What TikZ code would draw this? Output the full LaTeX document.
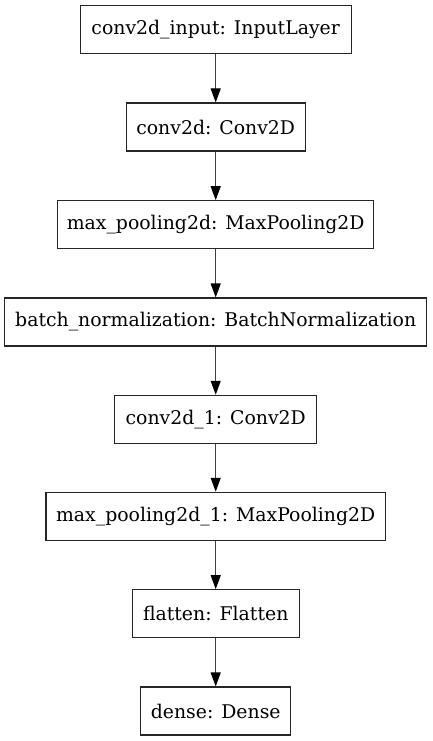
\documentclass[tikz,border=0pt]{standalone}
\usepackage{fontspec}
\setmainfont{DejaVu Serif}
\usetikzlibrary{arrows.meta}
\begin{document}
\begin{tikzpicture}[x=1pt,y=-1pt,
  layer/.style={draw=black!85,line width=1.1pt,minimum height=48pt,inner sep=0pt,
    font=\fontsize{18.85}{22}\selectfont,text=black},
  conn/.style={draw=black!75,line width=1.1pt,-{Triangle[length=14pt,width=10pt,fill=black,color=black]}}]
\useasboundingbox (0,0) rectangle (432,741);
\node[layer,minimum width=271pt] (in) at (215.7,29.7) {conv2d\_input: InputLayer};
\node[layer,minimum width=179pt] (c1) at (215.7,127) {conv2d: Conv2D};
\node[layer,minimum width=316pt] (m1) at (215.7,224.7) {max\_pooling2d: MaxPooling2D};
\node[layer,minimum width=422pt] (bn) at (215.7,322) {batch\_normalization: BatchNormalization};
\node[layer,minimum width=201.7pt] (c2) at (215.7,419.3) {conv2d\_1: Conv2D};
\node[layer,minimum width=339.4pt] (m2) at (215.7,516.3) {max\_pooling2d\_1: MaxPooling2D};
\node[layer,minimum width=167pt] (fl) at (215.7,613.7) {flatten: Flatten};
\node[layer,minimum width=149.7pt] (de) at (215.7,711) {dense: Dense};
\draw[conn] (in) -- (c1);
\draw[conn] (c1) -- (m1);
\draw[conn] (m1) -- (bn);
\draw[conn] (bn) -- (c2);
\draw[conn] (c2) -- (m2);
\draw[conn] (m2) -- (fl);
\draw[conn] (fl) -- (de);
\end{tikzpicture}
\end{document}
